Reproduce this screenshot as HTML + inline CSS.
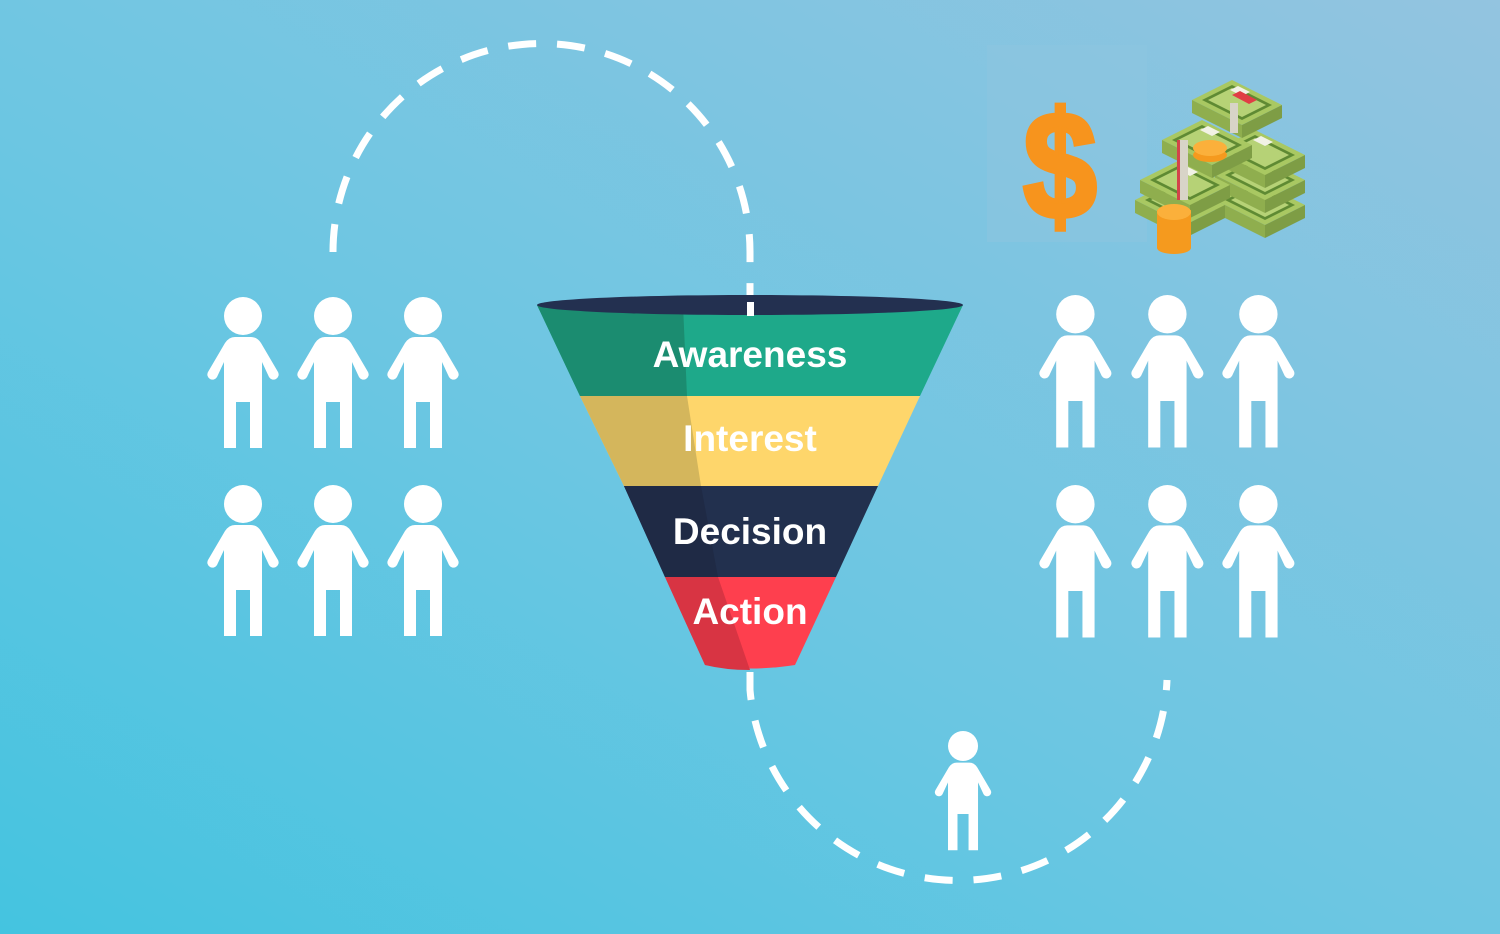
<!DOCTYPE html>
<html><head><meta charset="utf-8"><style>
html,body{margin:0;padding:0}
body{width:1500px;height:934px;overflow:hidden;background:linear-gradient(30deg,#44c4e0 0%,#6cc6e2 45%,#93c4e0 100%);font-family:"Liberation Sans",sans-serif}
</style></head><body>
<svg width="1500" height="934" viewBox="0 0 1500 934" xmlns="http://www.w3.org/2000/svg" style="display:block">
<defs>
<g id="p">
<circle cx="38" cy="19" r="19" fill="#fff"/>
<path fill="#fff" d="M30,40 L46,40 Q52,40 56,46 L73,75 a5,5 0 0 1 -9,5 L57,65 L57,151 L45,151 L45,105 L31,105 L31,151 L19,151 L19,65 L12,80 a5,5 0 0 1 -9,-5 L20,46 Q24,40 30,40 Z"/>
</g>
<g id="bill">
<polygon points="0,20 40,0 90,25 50,45" fill="#a9c862"/>
<polygon points="0,20 50,45 50,58 0,33" fill="#8fae4e"/>
<polygon points="50,45 90,25 90,38 50,58" fill="#7e9d45"/>
<polygon points="10,20 40,5 80,25 50,40" fill="#5f8a33"/>
<polygon points="16,20 40,8 74,25 50,37" fill="#b6d276"/>
<polygon points="38,10 46,6 58,12 50,16" fill="#f2f2e6"/>
</g>
</defs>
<rect x="987" y="45" width="160" height="197" fill="#8ec5e0" opacity="0.5"/>
<path d="M333,252 A208,208 0 0 1 750,252 L750,320" fill="none" stroke="#fff" stroke-width="7" stroke-dasharray="28,21"/>
<path d="M750,672 L750,690 A209,209 0 0 0 1167,680" fill="none" stroke="#fff" stroke-width="7" stroke-dasharray="28,21"/>
<polygon points="537,305 963,305 920,396 580,396" fill="#1ea98a"/>
<polygon points="537,305 683,305 687,396 580,396" fill="#1b8c70"/>
<polygon points="580,396 920,396 878,486 624,486" fill="#fed66b"/>
<polygon points="580,396 687,396 701,486 624,486" fill="#d4b65c"/>
<polygon points="624,486 878,486 836,577 665,577" fill="#22304e"/>
<polygon points="624,486 701,486 718,577 665,577" fill="#1f2a45"/>
<path d="M665,577 L836,577 L795,665 Q750,672 705,665 Z" fill="#fe3f4e"/>
<path d="M665,577 L718,577 L750,670 Q725,670 705,665 Z" fill="#d83443"/>
<ellipse cx="750" cy="305" rx="213" ry="10" fill="#233050"/>
<rect x="747" y="302" width="7" height="14" fill="#fff"/>
<g fill="#fff" font-family="Liberation Sans,sans-serif" font-weight="bold" font-size="37" text-anchor="middle">
<text x="750" y="367">Awareness</text>
<text x="750" y="451">Interest</text>
<text x="750" y="544">Decision</text>
<text x="750" y="624">Action</text>
</g>
<use href="#p" x="205" y="297"/><use href="#p" x="295" y="297"/><use href="#p" x="385" y="297"/>
<use href="#p" x="205" y="485"/><use href="#p" x="295" y="485"/><use href="#p" x="385" y="485"/>
<use href="#p" transform="translate(1037,295) scale(1.01,1.01)"/>
<use href="#p" transform="translate(1129,295) scale(1.01,1.01)"/>
<use href="#p" transform="translate(1220,295) scale(1.01,1.01)"/>
<use href="#p" transform="translate(1037,485) scale(1.01,1.01)"/>
<use href="#p" transform="translate(1129,485) scale(1.01,1.01)"/>
<use href="#p" transform="translate(1220,485) scale(1.01,1.01)"/>
<use href="#p" transform="translate(933,731) scale(0.79,0.79)"/>
<text x="1060" y="218" fill="#f7941d" stroke="#f7941d" stroke-width="5" font-family="Liberation Sans,sans-serif" font-weight="bold" font-size="152" text-anchor="middle" transform="translate(1060,0) scale(0.87,1) translate(-1060,0)">$</text>
<use href="#bill" x="1215" y="180"/>
<use href="#bill" x="1215" y="155"/>
<use href="#bill" x="1215" y="130"/>
<use href="#bill" x="1192" y="80"/>
<use href="#bill" x="1135" y="180"/>
<use href="#bill" x="1140" y="160"/>
<use href="#bill" x="1162" y="120"/>
<polygon points="1232,95 1240,91 1257,100 1249,104" fill="#e03e45"/>
<rect x="1230" y="103" width="8" height="30" fill="#d8d4c8"/>
<rect x="1180" y="140" width="8" height="60" fill="#d8d4c8"/>
<rect x="1177" y="140" width="3" height="60" fill="#d3434a"/>
<ellipse cx="1210" cy="155" rx="17" ry="7" fill="#f59a1e"/>
<ellipse cx="1210" cy="148" rx="17" ry="8" fill="#fbb03b"/>
<rect x="1157" y="210" width="34" height="38" fill="#f59a1e"/>
<ellipse cx="1174" cy="248" rx="17" ry="6" fill="#f59a1e"/>
<ellipse cx="1174" cy="212" rx="17" ry="8" fill="#fbb03b"/>
</svg>
</body></html>
